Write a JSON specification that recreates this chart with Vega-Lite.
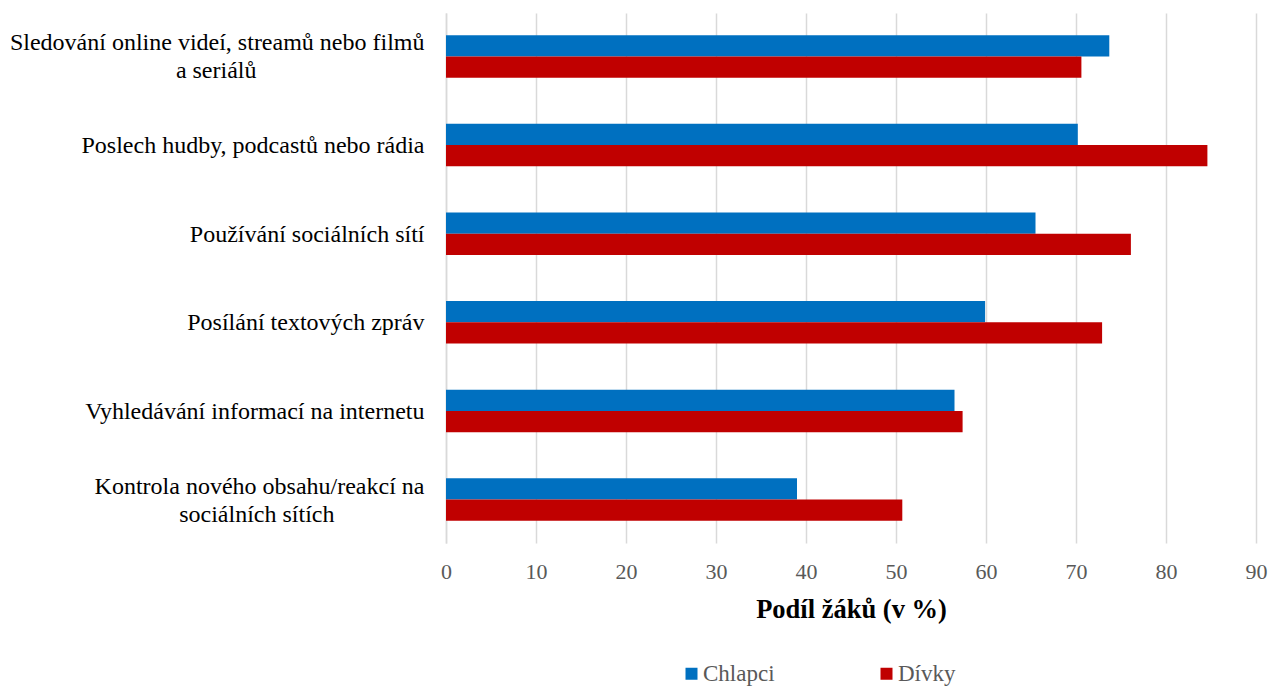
{
  "$schema": "https://vega.github.io/schema/vega-lite/v6.json",
  "autosize": {"type": "none"},
  "padding": {"left": 446, "top": 13, "right": 15, "bottom": 145},
  "width": 810,
  "height": 530,
  "background": "white",
  "config": {
    "view": {"stroke": null},
    "font": "Liberation Serif"
  },
  "data": {
    "values": [
      {"cat": "Sledování online videí, streamů nebo filmů|a seriálů\u00a0\u00a0\u00a0\u00a0\u00a0\u00a0\u00a0\u00a0\u00a0\u00a0\u00a0\u00a0\u00a0\u00a0\u00a0\u00a0\u00a0\u00a0\u00a0\u00a0\u00a0\u00a0\u00a0\u00a0\u00a0\u00a0\u00a0\u00a0\u200b", "ord": 1, "gender": "Chlapci", "value": 73.7},
      {"cat": "Sledování online videí, streamů nebo filmů|a seriálů\u00a0\u00a0\u00a0\u00a0\u00a0\u00a0\u00a0\u00a0\u00a0\u00a0\u00a0\u00a0\u00a0\u00a0\u00a0\u00a0\u00a0\u00a0\u00a0\u00a0\u00a0\u00a0\u00a0\u00a0\u00a0\u00a0\u00a0\u00a0\u200b", "ord": 1, "gender": "Dívky", "value": 70.6},
      {"cat": "Poslech hudby, podcastů nebo rádia", "ord": 2, "gender": "Chlapci", "value": 70.2},
      {"cat": "Poslech hudby, podcastů nebo rádia", "ord": 2, "gender": "Dívky", "value": 84.6},
      {"cat": "Používání sociálních sítí", "ord": 3, "gender": "Chlapci", "value": 65.5},
      {"cat": "Používání sociálních sítí", "ord": 3, "gender": "Dívky", "value": 76.1},
      {"cat": "Posílání textových zpráv", "ord": 4, "gender": "Chlapci", "value": 59.9},
      {"cat": "Posílání textových zpráv", "ord": 4, "gender": "Dívky", "value": 72.9},
      {"cat": "Vyhledávání informací na internetu", "ord": 5, "gender": "Chlapci", "value": 56.5},
      {"cat": "Vyhledávání informací na internetu", "ord": 5, "gender": "Dívky", "value": 57.4},
      {"cat": "Kontrola nového obsahu/reakcí na|sociálních sítích\u00a0\u00a0\u00a0\u00a0\u00a0\u00a0\u00a0\u00a0\u00a0\u00a0\u00a0\u00a0\u00a0\u00a0\u00a0\u200b", "ord": 6, "gender": "Chlapci", "value": 39.0},
      {"cat": "Kontrola nového obsahu/reakcí na|sociálních sítích\u00a0\u00a0\u00a0\u00a0\u00a0\u00a0\u00a0\u00a0\u00a0\u00a0\u00a0\u00a0\u00a0\u00a0\u00a0\u200b", "ord": 6, "gender": "Dívky", "value": 50.7}
    ]
  },
  "mark": {"type": "bar"},
  "encoding": {
    "y": {
      "field": "cat",
      "type": "nominal",
      "sort": {"field": "ord", "op": "min", "order": "ascending"},
      "scale": {"paddingInner": 0.52, "paddingOuter": 0.25},
      "axis": {
        "title": null,
        "labelExpr": "split(datum.label, '|')",
        "labelFontSize": 24,
        "labelColor": "#000000",
        "labelAlign": "right",
        "labelPadding": 22,
        "labelLineHeight": 28,
        "labelLimit": 500,
        "labelOffset": {"condition": {"test": "indexof(datum.value, '|') >= 0", "value": -13}, "value": 1},
        "ticks": false,
        "domain": true,
        "domainColor": "#d9d9d9",
        "domainWidth": 1.5,
        "grid": false,
        "labelBaseline": "middle",
        "labelOverlap": false,
        "labelFlush": false
      }
    },
    "yOffset": {"field": "gender", "type": "nominal", "sort": ["Chlapci", "Dívky"]},
    "x": {
      "field": "value",
      "type": "quantitative",
      "scale": {"domain": [0, 90], "nice": false},
      "axis": {
        "title": "Podíl žáků (v %)",
        "titleFontSize": 26.5,
        "titleFontWeight": "bold",
        "titleColor": "#000000",
        "titlePadding": 14,
        "values": [0, 10, 20, 30, 40, 50, 60, 70, 80, 90],
        "labelFontSize": 22,
        "labelColor": "#595959",
        "labelPadding": 18,
        "ticks": false,
        "domain": false,
        "grid": true,
        "gridColor": "#d9d9d9",
        "gridWidth": 1.5,
        "labelFlush": false
      }
    },
    "color": {
      "field": "gender",
      "type": "nominal",
      "scale": {"domain": ["Chlapci", "Dívky"], "range": ["#0070C0", "#C00000"]},
      "legend": {
        "title": null,
        "orient": "none",
        "legendX": 234,
        "legendY": 649,
        "direction": "horizontal",
        "symbolType": "square",
        "symbolSize": 144,
        "symbolStrokeWidth": 0,
        "labelFontSize": 23,
        "labelColor": "#595959",
        "labelOffset": 0,
        "columnPadding": 100
      }
    }
  }
}
